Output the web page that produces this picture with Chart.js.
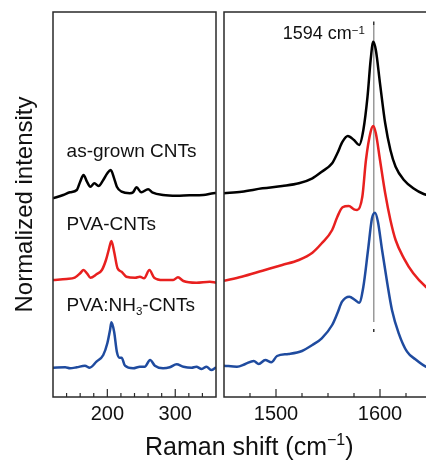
<!DOCTYPE html>
<html><head><meta charset="utf-8">
<script src="https://cdn.jsdelivr.net/npm/chart.js@4/dist/chart.umd.min.js"></script>
<style>
html,body{margin:0;padding:0;background:#fff;overflow:hidden;width:426px;height:462px;position:relative;}
#cL{position:absolute;left:0;top:0;}
#cR{position:absolute;left:219px;top:0;}
#xtitle{position:absolute;left:145px;top:434px;font-family:"Liberation Sans",Arial,sans-serif;font-size:25px;line-height:1;white-space:nowrap;color:#111;}
#xtitle .sp{font-size:16px;position:relative;top:-10px;line-height:0;}
</style></head>
<body>
<canvas id="cL" width="221" height="462"></canvas>
<canvas id="cR" width="218" height="462"></canvas>
<div id="xtitle">Raman shift (cm<span class="sp">−1</span>)</div>
<script>
// ---- RBM region (left panel) ----
const rbmBlackX = [120,135,145,155,160,165,170,175,181,187,194,200,205,210,214,221,233,238,243,250,260,267,282,302,321,341,356,360];
const rbmBlackY = [198.7,202,204.7,207,215.3,222,215.3,210.3,213.7,211,217,223.7,227,218.7,210.3,205.3,203.7,204.7,209.7,204.7,207.7,204.3,202,201.3,201.7,202,203.7,204];
const rbmRedX = [120,140,152,160,165,170,175,184,192,198,202,206,210,215,221,228,241,248,254,262,269,282,297,304,312,331,351,360];
const rbmRedY = [117,118,119.3,123.7,127,123.7,119.3,122.7,127,137,147,156,145.3,128.7,125.3,120.3,119.3,120.3,118.7,127,119.3,117,117,119.7,116,114.3,115.3,114.3];
const rbmBlueX = [120,138,145,155,167,174,184,194,200,204,206,210,214,218,221,226,238,248,255,263,270,282,292,302,312,324,331,339,346,353,360];
const rbmBlueY = [29.3,29.7,28.7,29.7,31.3,29.3,35.3,42,53.7,67,74.7,65.3,45.3,39.3,39.3,31.3,28.7,30.3,30.3,37,31.3,28.7,29.7,32.7,30.3,29.3,30.3,28,30.3,27,29.7];
// ---- G band region (right panel) ----
const gBlackX = [1450,1467,1487,1506,1522,1535,1544,1554,1559,1564,1569,1575,1580,1584,1588,1591,1593.5,1596,1600,1605,1610,1615,1623,1632,1642,1650];
const gBlackY = [203.7,205.3,208.7,211,213.7,218.7,225.3,233.7,243.7,255.3,261,257,252,267,300.3,337,355.3,347,313.7,273.7,247,230.3,217,208.7,203,201];
const gRedX = [1450,1467,1487,1506,1522,1535,1544,1554,1559,1564,1570,1575,1578,1583,1586.5,1591,1593.5,1596,1600,1605,1610,1615,1623,1632,1644,1650];
const gRedY = [116.3,120.3,126.3,132,137,144.3,153.7,167,180.3,189.7,191,187.7,187,200.3,237,265.3,271,263.7,237,203.7,177,157,138.7,123.7,110.3,106];
const gBlueX = [1450,1462.5,1470.5,1478.6,1483.4,1489.7,1495.5,1501,1512,1525,1535,1544,1554,1559,1563.5,1570.5,1576,1580,1584,1588.5,1592.3,1595.2,1598,1602,1607,1611.5,1618,1626,1634,1644,1650];
const gBlueY = [31.3,30.3,33,36,33,37,34.7,41,43,46,52,58.7,72,83.7,95.3,100.3,97,94.3,110.3,147,178.7,184.3,175.3,147,113.7,87,63.7,45.3,37.7,30.3,28];
// reference line at 1594 cm-1
const markerX = [1594,1594];
const markerY = [372,75];
const capX = [1594,1594,null,1594,1594];
const capY = [375.5,372,null,68,65];
// tick / label settings
const leftRange = [120,360], rightRange = [1450,1650];
const leftStep = 20, rightStep = 25, majorEvery = 100;

const FONT = '"Liberation Sans", Arial, sans-serif';
const BLACK = '#000000', RED = '#e8201f', BLUE = '#1f4b9f', FRAME = '#2a2a2a';

function pts(xs, ys){ return xs.map((x,i)=> ys[i]===null ? {x:x,y:null} : {x:x,y:ys[i]}); }

const framePlugin = {id:'frame', afterDraw(chart){
  const a = chart.chartArea, ctx = chart.ctx;
  ctx.save(); ctx.strokeStyle = FRAME; ctx.lineWidth = 1.5;
  ctx.strokeRect(a.left, a.top, a.right - a.left, a.bottom - a.top);
  const s = chart.scales.x;
  ctx.lineWidth = 1.2;
  s.ticks.forEach(t => {
    if (t.value <= s.min || t.value >= s.max) return;
    const x = s.getPixelForValue(t.value);
    const len = (t.value % majorEvery === 0) ? 8 : 4;
    ctx.beginPath(); ctx.moveTo(x, a.bottom); ctx.lineTo(x, a.bottom - len); ctx.stroke();
  });
  ctx.restore();
}};

const textPlugin = {id:'txt', afterDraw(chart, args, opts){
  const ctx = chart.ctx, sx = chart.scales.x, sy = chart.scales.y;
  ctx.save(); ctx.fillStyle = '#111'; ctx.textBaseline = 'alphabetic'; ctx.textAlign = 'left';
  (opts.items || []).forEach(it => {
    let x = sx.getPixelForValue(it.x), y = sy.getPixelForValue(it.y);
    it.segs.forEach(sg => {
      const size = sg.sub || sg.sup ? 11.5 : (it.size || 19);
      ctx.font = size + 'px ' + FONT;
      const dy = sg.sub ? 4.5 : (sg.sup ? -5 : 0);
      ctx.fillText(sg.t, x, y + dy);
      x += ctx.measureText(sg.t).width;
    });
  });
  ctx.restore();
}};

function lineDs(xs, ys, color){
  return {data: pts(xs, ys), borderColor: color, borderWidth: 2.5, pointRadius: 0, pointHoverRadius: 0,
          cubicInterpolationMode: 'monotone', fill: false};
}

function xScale(range, step){
  return {type:'linear', min: range[0], max: range[1],
    ticks:{stepSize: step, autoSkip:false, maxRotation:0, padding:5, color:'#111',
           font:{size:20, family:FONT}, callback: v => (v % majorEvery === 0 ? String(v) : '')},
    grid:{display:false, drawTicks:false}, border:{display:false},
    afterFit: s => { s.height = 65; }};
}

new Chart(document.getElementById('cL'), {
  type:'line',
  data:{datasets:[
    lineDs(rbmBlackX, rbmBlackY, BLACK),
    lineDs(rbmRedX, rbmRedY, RED),
    lineDs(rbmBlueX, rbmBlueY, BLUE)
  ]},
  options:{
    responsive:false, animation:false, devicePixelRatio:1,
    layout:{autoPadding:false, padding:{left:0, right:0, top:12, bottom:0}},
    plugins:{legend:{display:false}, tooltip:{enabled:false},
      txt:{items:[
        {x:140, y:239.7, segs:[{t:'as-grown CNTs'}]},
        {x:140, y:167, segs:[{t:'PVA-CNTs'}]},
        {x:140, y:86.3, segs:[{t:'PVA:NH'},{t:'3', sub:true},{t:'-CNTs'}]}
      ]}},
    scales:{
      x: xScale(leftRange, leftStep),
      y:{min:0, max:385, ticks:{display:false}, grid:{display:false, drawTicks:false}, border:{display:false},
         title:{display:true, text:'Normalized intensity', color:'#111', font:{size:24, family:FONT}, padding:{top:11, bottom:0}},
         afterFit: s => { s.width = 53; }}
    }
  },
  plugins:[framePlugin, textPlugin]
});

new Chart(document.getElementById('cR'), {
  type:'line',
  data:{datasets:[
    Object.assign(lineDs(gBlackX, gBlackY, BLACK), {order:1}),
    Object.assign(lineDs(gRedX, gRedY, RED), {order:1}),
    Object.assign(lineDs(gBlueX, gBlueY, BLUE), {order:1}),
    {data: pts(markerX, markerY), borderColor:'#9a9a9a', borderWidth:1.5, pointRadius:0, pointHoverRadius:0, order:10},
    {data: pts(capX, capY), borderColor:'#333', borderWidth:1.5, pointRadius:0, pointHoverRadius:0, spanGaps:false, order:10}
  ]},
  options:{
    responsive:false, animation:false, devicePixelRatio:1,
    layout:{autoPadding:false, padding:{left:0, right:0, top:12, bottom:0}},
    plugins:{legend:{display:false}, tooltip:{enabled:false},
      txt:{items:[
        {x:1506.5, y:357.7, size:18, segs:[{t:'1594 cm'},{t:'−1', sup:true}]}
      ]}},
    scales:{
      x: xScale(rightRange, rightStep),
      y:{display:false, min:0, max:385}
    }
  },
  plugins:[framePlugin, textPlugin]
});
</script>
</body></html>
